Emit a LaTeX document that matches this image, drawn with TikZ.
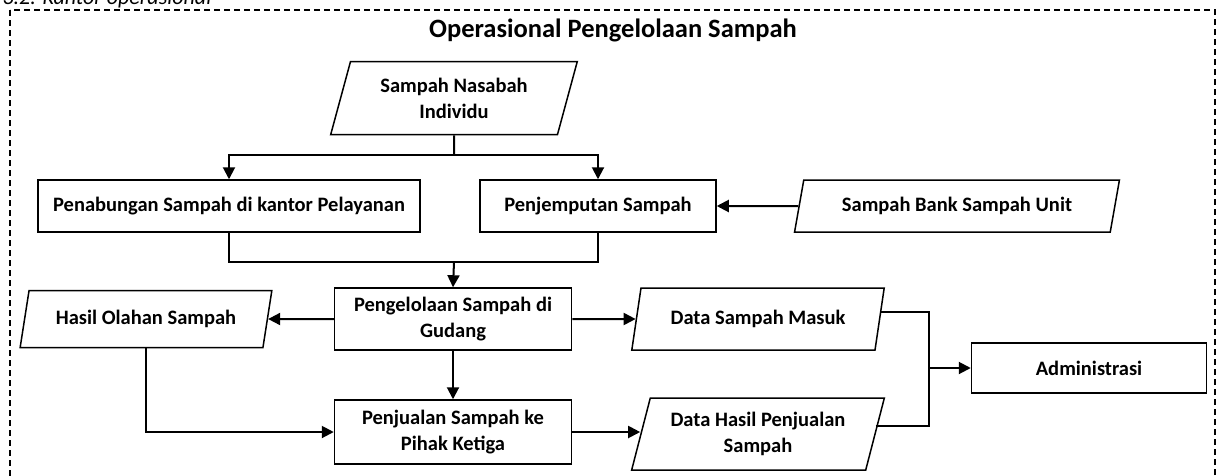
\documentclass[tikz,border=0pt]{standalone}
\usepackage{fontspec}
\setmainfont{Carlito}
\usetikzlibrary{shapes.geometric,arrows.meta}

\begin{document}
\begin{tikzpicture}[x=1pt,y=-1pt,
	box/.style={draw, line width=1.5, align=center, font=\bfseries\fontsize{20.5}{26}\selectfont, inner sep=2},
	data/.style={draw, line width=1.5, align=center, font=\bfseries\fontsize{20.5}{26}\selectfont, trapezium, trapezium left angle=72, trapezium right angle=108, trapezium stretches=true, inner sep=2},
	arr/.style={line width=2, -{Triangle[length=12,width=12]}},
	lin/.style={line width=2}]
				\useasboundingbox (0,0) rectangle (1217,475);
				\clip (0,0) rectangle (1217,475);
				\node[anchor=base west, font=\itshape\fontsize{22}{26}\selectfont] (kop) at (-1,4) {3.2. Kantor operasional};
				\draw[line width=1.5, dash pattern=on 6 off 4] (10,10) rectangle (1215,495);
				\node[font=\bfseries\fontsize{26.5}{30}\selectfont] (judul) at (613,30) {Operasional Pengelolaan Sampah};
				\node[data, minimum width=247, minimum height=73] (nasabah) at (454,98) {Sampah Nasabah\\Individu};
				\node[box, minimum width=382, minimum height=52] (penabungan) at (229,206) {Penabungan Sampah di kantor Pelayanan};
				\node[box, minimum width=236, minimum height=52] (jemput) at (598,206) {Penjemputan Sampah};
				\node[data, minimum width=325, minimum height=52] (bankunit) at (957,206) {Sampah Bank Sampah Unit};
				\node[box, minimum width=237, minimum height=62] (gudang) at (453,319) {Pengelolaan Sampah di\\Gudang};
				\node[data, minimum width=252, minimum height=57] (olahan) at (146,319) {Hasil Olahan Sampah};
				\node[data, minimum width=253, minimum height=62] (masuk) at (758,319) {Data Sampah Masuk};
				\node[box, minimum width=237, minimum height=64] (jual) at (453,432) {Penjualan Sampah ke\\Pihak Ketiga};
				\node[data, minimum width=253, minimum height=72] (hasiljual) at (758,434) {Data Hasil Penjualan\\Sampah};
				\node[box, minimum width=235, minimum height=50] (admin) at (1089,368) {Administrasi};
				\coordinate (bagi) at (454,155);
				\coordinate (gabung) at (454,262);
				\coordinate (temu) at (929,368);
				\draw[lin] (nasabah.south) -- (bagi);
				\draw[arr] (bagi) -| (penabungan.north);
				\draw[arr] (bagi) -| (jemput.north);
				\draw[arr] (bankunit.west) -- (jemput.east);
				\draw[lin] (penabungan.south) |- (gabung);
				\draw[lin] (jemput.south) |- (gabung);
				\draw[arr] (gabung) -- (gudang.north);
				\draw[arr] (gudang.west) -- (olahan.east);
				\draw[arr] (gudang.east) -- (masuk.west);
				\draw[arr] (gudang.south) -- (jual.north);
				\draw[arr] (olahan.south) |- (jual.west);
				\draw[arr] (jual.east) -- (hasiljual.west |- jual.east);
				\draw[lin] ([yshift=7]masuk.east) -| (temu);
				\draw[lin] ([yshift=8]hasiljual.east) -| (temu);
				\draw[arr] (temu) -- (admin.west);
			\end{tikzpicture}
\end{document}
